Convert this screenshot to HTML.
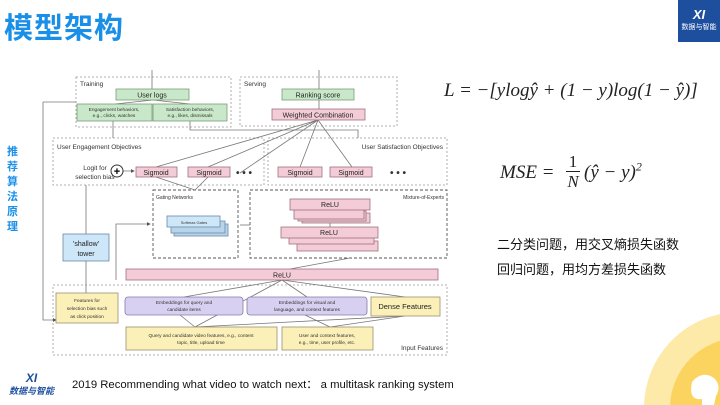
<!DOCTYPE html>
<html><head><meta charset="utf-8"><style>
html,body{margin:0;width:720px;height:405px;overflow:hidden;background:#fff;font-family:"Liberation Sans","Noto Sans CJK SC",sans-serif;position:relative}
.a{position:absolute}
</style></head><body>
<div class="a" style="left:4px;top:6px;font-size:29px;font-weight:bold;color:#1a8fe8;letter-spacing:1px;font-family:'Noto Sans CJK SC',sans-serif;line-height:40px">模型架构</div>
<div class="a" style="left:678px;top:0;width:42px;height:42px;background:#1e4f9e;color:#fff;text-align:center;overflow:hidden">
<div style="font-size:13px;font-style:italic;font-weight:bold;margin-top:8px;line-height:14px">XI</div>
<div style="font-size:7px;font-family:'Noto Sans CJK SC',sans-serif;line-height:10px">数据与智能</div></div>
<div class="a" style="left:7px;top:144px;width:14px;font-size:11px;line-height:15px;color:#1a8fe8;font-weight:bold;font-family:'Noto Sans CJK SC',sans-serif">推荐算法原理</div>
<div class="a" style="left:4px;top:372px;width:55px;height:30px;text-align:center;color:#1e4f9e;overflow:hidden">
<div style="font-size:12px;font-style:italic;font-weight:bold;line-height:13px">XI</div>
<div style="font-size:9px;font-style:italic;font-weight:bold;font-family:'Noto Sans CJK SC',sans-serif;line-height:12px">数据与智能</div></div>
<div class="a" style="left:72px;top:378px;font-size:11.3px;color:#111;white-space:nowrap;line-height:14px">2019 Recommending what video to watch next： a multitask ranking system</div>
<svg class="a" style="left:0;top:0" width="720" height="405">
<circle cx="740" cy="408" r="96" fill="#fde9a8"/>
<circle cx="740" cy="408" r="70" fill="#fbd460"/>
<path d="M692,382 q10,-12 22,-4 q8,8 2,18 l-2,9 l-12,0 l0,-6 q-14,2 -10,-17z" fill="#fff"/>
</svg>
<div class="a" style="left:444px;top:80px;font-size:19px;font-family:'Liberation Serif',serif;font-style:italic;color:#222;white-space:nowrap;line-height:22px">L = −[ylog<span>ŷ</span> + (1 − y)log(1 − ŷ)]</div>
<div class="a" style="left:500px;top:162px;font-size:19px;font-family:'Liberation Serif',serif;font-style:italic;color:#222;white-space:nowrap;line-height:22px">MSE = </div>
<div class="a" style="left:566px;top:152px;font-size:17px;font-family:'Liberation Serif',serif;color:#222;text-align:center;width:14px;line-height:19px">1<div style="border-top:1px solid #222;font-style:italic">N</div></div>
<div class="a" style="left:584px;top:162px;font-size:19px;font-family:'Liberation Serif',serif;font-style:italic;color:#222;white-space:nowrap;line-height:22px">(ŷ − y)<sup style="font-size:12px;line-height:0">2</sup></div>
<div class="a" style="left:497px;top:231px;font-size:13px;line-height:25px;color:#111;font-family:'Noto Sans CJK SC',sans-serif">二分类问题，用交叉熵损失函数<br>回归问题，用均方差损失函数</div>
<svg class="a" style="left:0;top:0" width="720" height="405" font-family="Liberation Sans, sans-serif">
<defs><marker id="m" markerWidth="5" markerHeight="5" refX="4" refY="2.5" orient="auto"><path d="M0,0L5,2.5L0,5z" fill="#555"/></marker></defs>
<g fill="none" stroke="#999" stroke-width="0.8" stroke-dasharray="2,2">
<rect x="76" y="77" width="155" height="50"/>
<rect x="240" y="77" width="157" height="49"/>
<rect x="53" y="138" width="211" height="47"/>
<rect x="268" y="138" width="179" height="47"/>
<rect x="53" y="285" width="394" height="70"/>
</g>
<g fill="none" stroke="#555" stroke-width="0.9" stroke-dasharray="3,2">
<rect x="153" y="190" width="85" height="68"/>
<rect x="250" y="190" width="197" height="68"/>
</g>
<g stroke="#777" stroke-width="0.8" fill="none">
<path d="M43,102 H76 M43,102 V320 H56" marker-end="url(#m)"/>
<path d="M152,70 V89"/><path d="M319,70 V109"/>
<path d="M153,100 L115,104 M153,100 L190,104"/>
<path d="M113,121 V138"/><path d="M190,121 V130 H358 V138"/>
<path d="M86,261 V185"/><path d="M86,293 V261"/>
<path d="M116,171 H134" marker-end="url(#m)"/>
<path d="M318,120 L156,167 M318,120 L208,167 M318,120 L300,167 M318,120 L352,167 M318,120 L240,173"/>
<path d="M195,190 L156,177 M195,190 L208,177"/>
<path d="M116,280 V224 H150" marker-end="url(#m)"/>
<path d="M250,225 H240"/>
<path d="M290,269 L350,258 M330,227 V210"/>
<path d="M195,327 L180,315 M195,327 L405,316 M195,327 L282,280 M330,327 L305,315 M330,327 L405,316 M184,297 L282,280 M307,297 L282,280 M405,297 L282,280"/>
</g>
<g font-size="6.5" fill="#333">
<text x="80" y="86">Training</text><text x="244" y="86">Serving</text>
<text x="57" y="149">User Engagement Objectives</text>
<text x="443" y="149" text-anchor="end">User Satisfaction Objectives</text>
<text x="156" y="199" font-size="5">Gating Networks</text>
<text x="444" y="199" font-size="5" text-anchor="end">Mixture-of-Experts</text>
<text x="443" y="350" text-anchor="end">Input Features</text>
<text x="95" y="170" text-anchor="middle">Logit for</text>
<text x="95" y="179" text-anchor="middle">selection bias</text>
</g>
<g stroke="#7a9c7a" stroke-width="0.8" fill="#c9e8c9">
<rect x="116" y="89" width="73" height="11"/><rect x="77" y="104" width="75" height="17"/><rect x="153" y="104" width="74" height="17"/>
<rect x="282" y="89" width="72" height="11"/>
</g>
<g stroke="#a07080" stroke-width="0.8" fill="#f4ccd8">
<rect x="272" y="109" width="93" height="11"/>
<rect x="136" y="167" width="41" height="10"/><rect x="188" y="167" width="42" height="10"/>
<rect x="278" y="167" width="44" height="10"/><rect x="330" y="167" width="42" height="10"/>
<rect x="126" y="269" width="312" height="11"/>
<rect x="302" y="213" width="68" height="10"/><rect x="298" y="211" width="68" height="10"/><rect x="294" y="209" width="70" height="10"/><rect x="290" y="199" width="80" height="11"/>
<rect x="297" y="241" width="81" height="10"/><rect x="289" y="234" width="85" height="10"/><rect x="281" y="227" width="97" height="11"/>
</g>
<g stroke="#6a8aa8" stroke-width="0.8" fill="#b8d4ea">
<rect x="174" y="224" width="54" height="12"/><rect x="171" y="221" width="54" height="12"/><rect x="167" y="216" width="53" height="11" fill="#cde6f8"/>
<rect x="63" y="234" width="46" height="27" fill="#cde6f8"/>
</g>
<g stroke="#9a9070" stroke-width="0.8" fill="#fbf0b8">
<rect x="56" y="293" width="62" height="30"/><rect x="371" y="297" width="69" height="19"/>
<rect x="126" y="327" width="151" height="23"/><rect x="282" y="327" width="91" height="23"/>
</g>
<g stroke="#8878a8" stroke-width="0.8" fill="#d8d0f0">
<rect x="125" y="297" width="118" height="18" rx="3"/><rect x="247" y="297" width="120" height="18" rx="3"/>
</g>
<circle cx="117" cy="171" r="6" fill="#fff" stroke="#333"/><text x="117" y="175" font-size="11" text-anchor="middle" font-weight="bold">+</text>
<g font-size="7" fill="#222" text-anchor="middle">
<text x="152" y="97.5">User logs</text><text x="318" y="97.5">Ranking score</text><text x="318" y="117.5">Weighted Combination</text>
<text x="156" y="175">Sigmoid</text><text x="209" y="175">Sigmoid</text><text x="300" y="175">Sigmoid</text><text x="351" y="175">Sigmoid</text>
<text x="330" y="207">ReLU</text><text x="329" y="235">ReLU</text><text x="282" y="277.5">ReLU</text>
<text x="86" y="246">'shallow'</text><text x="86" y="256">tower</text>
<text x="405" y="309" font-size="7.5">Dense Features</text>
</g>
<g font-size="4.8" fill="#333" text-anchor="middle">
<text x="114" y="111">Engagement behaviors,</text><text x="114" y="117">e.g., clicks, watches</text>
<text x="190" y="111">Satisfaction behaviors,</text><text x="190" y="117">e.g., likes, dismissals</text>
<text x="194" y="224" font-size="4">Softmax Gates</text>
<text x="87" y="302">Features for</text><text x="87" y="310">selection bias such</text><text x="87" y="318">as click position</text>
<text x="184" y="304">Embeddings for query and</text><text x="184" y="311">candidate items</text>
<text x="307" y="304">Embeddings for visual and</text><text x="307" y="311">language, and context features</text>
<text x="201" y="337">Query and candidate video features, e.g., content</text><text x="201" y="344">topic, title, upload time</text>
<text x="327" y="337">User and context features,</text><text x="327" y="344">e.g., time, user profile, etc.</text>
</g>
<g font-size="10" font-weight="bold" fill="#333"><text x="236" y="176">• • •</text><text x="390" y="176">• • •</text></g>
</svg>
</body></html>
